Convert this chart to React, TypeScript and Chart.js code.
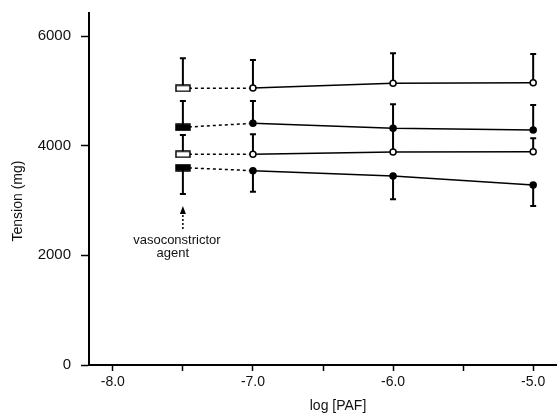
import React, { useEffect, useRef } from "react";
import { Chart, registerables } from "chart.js";

Chart.register(...registerables);

const logPAF = [-7.5, -7.0, -6.0, -5.0];
const xTicks = [-8.0, -7.5, -7.0, -6.5, -6.0, -5.5, -5.0];
const yTicks = [0, 2000, 4000, 6000];

const seriesAMean = [5046, 5050, 5138, 5149];
const seriesAUpper = [5593, 5563, 5685, 5672];
const seriesBMean = [4335, 4408, 4317, 4286];
const seriesBUpper = [4815, 4815, 4755, 4742];
const seriesCMean = [3843, 3843, 3885, 3891];
const seriesCUpper = [4195, 4207, 4300, 4134];
const seriesDMean = [3599, 3544, 3447, 3283];
const seriesDLower = [3119, 3161, 3022, 2900];

const FONT = "'Liberation Sans', Arial, sans-serif";

function makeRect(filled: boolean) {
  const c = document.createElement("canvas");
  c.width = 16;
  c.height = 8;
  const g = c.getContext("2d")!;
  g.fillStyle = filled ? "#000" : "#fff";
  g.fillRect(1, 1, 14, 6);
  g.strokeStyle = "#000";
  g.lineWidth = 1.5;
  g.strokeRect(1, 1, 14, 6);
  return c;
}

export default function App() {
  const ref = useRef<HTMLCanvasElement>(null);
  useEffect(() => {
    document.body.style.margin = "0";
    const openRect = makeRect(false);
    const fillRect = makeRect(true);
    const mk = (mean: number[], filled: boolean) => ({
      data: logPAF.map((x, i) => ({ x, y: mean[i] })),
      borderColor: "#000",
      borderWidth: 1.5,
      pointStyle: [filled ? fillRect : openRect, "circle", "circle", "circle"] as any,
      pointRadius: 3,
      pointBackgroundColor: filled ? "#000" : "#fff",
      pointBorderColor: "#000",
      pointBorderWidth: 1.5,
      showLine: true,
      clip: false,
      segment: {
        borderDash: (ctx: any) => (ctx.p0DataIndex === 0 ? [3, 3] : []),
      },
    });
    const errors = [
      { mean: seriesAMean, end: seriesAUpper },
      { mean: seriesBMean, end: seriesBUpper },
      { mean: seriesCMean, end: seriesCUpper },
      { mean: seriesDMean, end: seriesDLower },
    ];
    const plugin = {
      id: "extras",
      beforeDatasetsDraw(chart: any) {
        const g = chart.ctx;
        const xs = chart.scales.x;
        const ys = chart.scales.y;
        g.save();
        g.strokeStyle = "#000";
        g.lineWidth = 2;
        errors.forEach((e) => {
          logPAF.forEach((x, i) => {
            const px = xs.getPixelForValue(x);
            const p0 = ys.getPixelForValue(e.mean[i]);
            const p1 = ys.getPixelForValue(e.end[i]);
            g.beginPath();
            g.moveTo(px, p0);
            g.lineTo(px, p1);
            g.moveTo(px - 3, p1);
            g.lineTo(px + 3, p1);
            g.stroke();
          });
        });
        g.restore();
      },
      afterDraw(chart: any) {
        const g = chart.ctx;
        const xs = chart.scales.x;
        g.save();
        g.fillStyle = "#111";
        g.textAlign = "center";
        g.textBaseline = "middle";
        g.font = `14px ${FONT}`;
        g.fillText("log [PAF]", 338, 406);
        g.save();
        g.translate(18, 201);
        g.rotate(-Math.PI / 2);
        g.fillText("Tension (mg)", 0, 0);
        g.restore();
        g.font = `13px ${FONT}`;
        const ax = xs.getPixelForValue(-7.5);
        g.fillText("vasoconstrictor", ax - 6, 240);
        g.fillText("agent", ax - 10, 253);
        g.strokeStyle = "#000";
        g.lineWidth = 1.5;
        g.setLineDash([2, 2]);
        g.beginPath();
        g.moveTo(ax, 229);
        g.lineTo(ax, 212);
        g.stroke();
        g.setLineDash([]);
        g.beginPath();
        g.moveTo(ax, 206);
        g.lineTo(ax - 3, 214);
        g.lineTo(ax + 3, 214);
        g.closePath();
        g.fillStyle = "#000";
        g.fill();
        g.restore();
      },
    };
    const chart = new Chart(ref.current!, {
      type: "scatter",
      data: {
        datasets: [
          mk(seriesAMean, false),
          mk(seriesBMean, true),
          mk(seriesCMean, false),
          mk(seriesDMean, true),
        ] as any,
      },
      options: {
        animation: false,
        responsive: false,
        layout: { autoPadding: false, padding: { top: 13, right: 0, bottom: 0, left: 0 } },
        plugins: { legend: { display: false }, tooltip: { enabled: false } },
        scales: {
          x: {
            type: "linear",
            min: -8.17,
            max: -4.83,
            afterBuildTicks: (s: any) => {
              s.ticks = xTicks.map((v) => ({ value: v }));
            },
            afterFit: (s: any) => {
              s.height = 52;
              s.paddingLeft = 0;
              s.paddingRight = 0;
            },
            grid: {
              drawOnChartArea: false,
              drawTicks: true,
              tickLength: 6,
              tickColor: "#000",
              tickWidth: 1.5,
            },
            border: { display: true, color: "#000", width: 2 },
            ticks: {
              color: "#111",
              padding: 3,
              maxRotation: 0,
              autoSkip: false,
              font: { family: FONT, size: 14 },
              callback: (v: any) => (Number(v) % 1 === 0 ? Number(v).toFixed(1) : ""),
            },
          },
          y: {
            type: "linear",
            min: 0,
            max: 6420,
            afterBuildTicks: (s: any) => {
              s.ticks = yTicks.map((v) => ({ value: v }));
            },
            afterFit: (s: any) => {
              s.width = 89;
              s.paddingTop = 0;
              s.paddingBottom = 0;
            },
            grid: {
              drawOnChartArea: false,
              drawTicks: true,
              tickLength: 8,
              tickColor: "#000",
              tickWidth: 1.5,
            },
            border: { display: true, color: "#000", width: 2 },
            ticks: {
              color: "#111",
              padding: 10,
              font: { family: FONT, size: 15 },
              callback: (v: any) => String(v),
            },
          },
        },
      } as any,
      plugins: [plugin],
    });
    return () => chart.destroy();
  }, []);
  return <canvas ref={ref} width={557} height={417} style={{ display: "block" }} />;
}
